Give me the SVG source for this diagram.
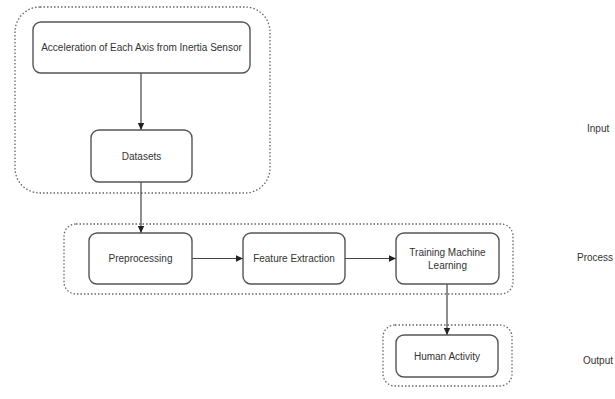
<svg xmlns="http://www.w3.org/2000/svg" width="615" height="399" viewBox="0 0 615 399">
<defs>
<style>
.grp{fill:none;stroke:#666;stroke-width:1.3;stroke-dasharray:1.5 2}
.box{fill:#fff;stroke:#555;stroke-width:1.4}
.t{font-family:"Liberation Sans",Arial,sans-serif;font-size:10px;fill:#333;text-anchor:middle;dominant-baseline:central}
.lbl{font-family:"Liberation Sans",Arial,sans-serif;font-size:10px;fill:#333;dominant-baseline:central}
.c{fill:none;stroke:#444;stroke-width:1.2;marker-end:url(#ah)}
</style>
<marker id="ah" markerWidth="8" markerHeight="8" refX="7" refY="4" orient="auto" markerUnits="userSpaceOnUse">
<path d="M0,0.8 L7,4 L0,7.2 Z" fill="#222"/>
</marker>
</defs>
<rect width="615" height="399" fill="#fff"/>
<g id="group-input"><rect class="grp" x="15" y="7" width="255" height="186" rx="25"/></g>
<g id="group-process"><rect class="grp" x="64" y="224" width="449" height="70" rx="12"/></g>
<g id="group-output"><rect class="grp" x="383" y="325" width="129" height="61" rx="12"/></g>
<g id="connectors">
<line class="c" x1="141" y1="73" x2="141" y2="130"/>
<line class="c" x1="141" y1="182" x2="141" y2="233"/>
<line class="c" x1="192" y1="258.5" x2="243" y2="258.5"/>
<line class="c" x1="345" y1="258.5" x2="396" y2="258.5"/>
<line class="c" x1="447" y1="284" x2="447" y2="335"/>
</g>
<g id="node-acceleration"><rect class="box" x="33" y="22" width="217" height="51" rx="8"/><text class="t" x="141.5" y="47.5">Acceleration of Each Axis from Inertia Sensor</text></g>
<g id="node-datasets"><rect class="box" x="91" y="130" width="101" height="52" rx="8"/><text class="t" x="141.5" y="156">Datasets</text></g>
<g id="node-preprocessing"><rect class="box" x="89" y="233" width="103" height="51" rx="8"/><text class="t" x="140.5" y="258.5">Preprocessing</text></g>
<g id="node-feature"><rect class="box" x="243" y="233" width="102" height="51" rx="8"/><text class="t" x="294" y="258.5">Feature Extraction</text></g>
<g id="node-training"><rect class="box" x="396" y="233" width="103" height="51" rx="8"/><text class="t" x="447.5" y="252">Training Machine</text><text class="t" x="447.5" y="265">Learning</text></g>
<g id="node-human"><rect class="box" x="396" y="335" width="102" height="42" rx="8"/><text class="t" x="447" y="356">Human Activity</text></g>
<text class="lbl" x="587" y="128">Input</text>
<text class="lbl" x="577" y="257">Process</text>
<text class="lbl" x="583" y="360">Output</text>
</svg>
